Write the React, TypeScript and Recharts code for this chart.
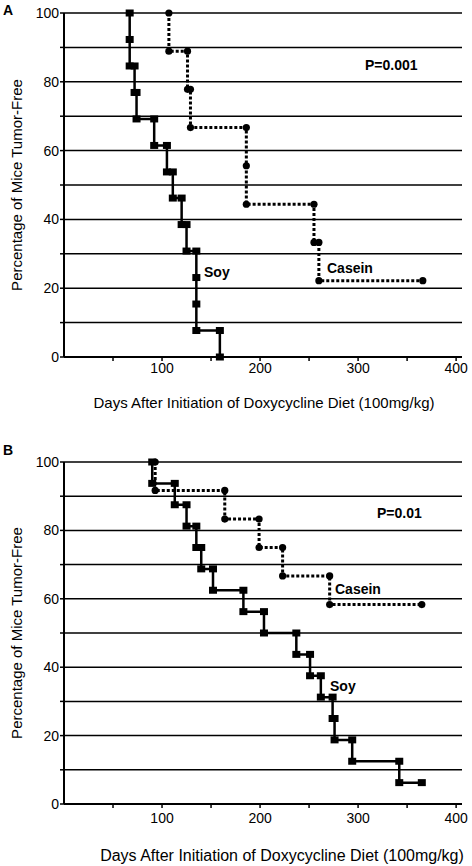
import React from 'react';
import { LineChart, Line, XAxis, YAxis, CartesianGrid } from 'recharts';

// ---- Panel A data ----
const soyADays = [67, 67, 67, 72, 72, 74, 74, 92, 92, 105, 105, 111, 111, 120, 120, 125, 125, 135, 135, 135, 135, 159, 159];
const soyAPct = [100, 92.3, 84.6, 84.6, 76.9, 76.9, 69.2, 69.2, 61.5, 61.5, 53.8, 53.8, 46.2, 46.2, 38.5, 38.5, 30.8, 30.8, 23.1, 15.4, 7.7, 7.7, 0];
const caseinADays = [107, 107, 126, 126, 129, 129, 186, 186, 186, 255, 255, 260, 260, 366];
const caseinAPct = [100, 88.9, 88.9, 77.8, 77.8, 66.7, 66.7, 55.6, 44.4, 44.4, 33.3, 33.3, 22.2, 22.2];

// ---- Panel B data ----
const soyBDays = [90, 90, 113, 113, 125, 125, 135, 135, 140, 140, 152, 152, 183, 183, 204, 204, 237, 237, 251, 251, 262, 262, 274, 274, 276, 276, 294, 294, 342, 342, 365];
const soyBPct = [100, 93.75, 93.75, 87.5, 87.5, 81.25, 81.25, 75, 75, 68.75, 68.75, 62.5, 62.5, 56.25, 56.25, 50, 50, 43.75, 43.75, 37.5, 37.5, 31.25, 31.25, 25, 25, 18.75, 18.75, 12.5, 12.5, 6.25, 6.25];
const caseinBDays = [93, 93, 164, 164, 199, 199, 223, 223, 271, 271, 365];
const caseinBPct = [100, 91.7, 91.7, 83.3, 83.3, 75, 75, 66.7, 66.7, 58.3, 58.3];

// ---- Axes ----
const xTicks = [50, 100, 150, 200, 250, 300, 350, 400];
const xTickLabels = ['', '100', '', '200', '', '300', '', '400'];
const yTicks = [0, 10, 20, 30, 40, 50, 60, 70, 80, 90, 100];
const yTickLabels = ['0', '', '20', '', '40', '', '60', '', '80', '', '100'];

const xTitle = 'Days After Initiation of Doxycycline Diet (100mg/kg)';
const yTitle = 'Percentage of Mice Tumor-Free';

const FONT = "'Liberation Sans', Arial, Helvetica, sans-serif";

const zip = (xs: number[], ys: number[]) => xs.map((x, i) => ({ x, y: ys[i] }));

const SquareDot = (p: any) => (
  <rect key={`sq-${p.index}`} x={p.cx - 4} y={p.cy - 3.5} width={8} height={7} fill="#000" />
);
const CircleDot = (p: any) => (
  <circle key={`ci-${p.index}`} cx={p.cx} cy={p.cy} r={3.6} fill="#000" />
);

function Panel({ soy, casein, height, top, xAxisHeight, tickMarginX }: any) {
  return (
    <LineChart
      width={472}
      height={height}
      margin={{ top, right: 10, left: 0, bottom: 0 }}
    >
      <CartesianGrid horizontal vertical={false} stroke="#000" strokeWidth={1.5} />
      <XAxis
        type="number"
        dataKey="x"
        domain={[0, 406]}
        ticks={xTicks}
        tickFormatter={(v: number) => xTickLabels[xTicks.indexOf(v)] ?? ''}
        height={xAxisHeight}
        axisLine={{ stroke: '#000', strokeWidth: 2 }}
        tickLine={{ stroke: '#000', strokeWidth: 1.5 }}
        tickSize={4}
        tickMargin={tickMarginX}
        tick={{ fill: '#000', fontSize: 14, fontFamily: FONT }}
        allowDataOverflow
      />
      <YAxis
        type="number"
        domain={[0, 100]}
        ticks={yTicks}
        tickFormatter={(v: number) => yTickLabels[yTicks.indexOf(v)] ?? ''}
        width={64}
        axisLine={{ stroke: '#000', strokeWidth: 2 }}
        tickLine={{ stroke: '#000', strokeWidth: 1.5 }}
        tickSize={4}
        tickMargin={1}
        tick={{ fill: '#000', fontSize: 14, fontFamily: FONT }}
        interval={0}
      />
      <Line
        data={casein}
        dataKey="y"
        type="linear"
        stroke="#000"
        strokeWidth={3}
        strokeDasharray="3 2"
        dot={CircleDot}
        activeDot={false}
        isAnimationActive={false}
      />
      <Line
        data={soy}
        dataKey="y"
        type="linear"
        stroke="#000"
        strokeWidth={2.5}
        dot={SquareDot}
        activeDot={false}
        isAnimationActive={false}
      />
    </LineChart>
  );
}

export default function App() {
  const bold = { fontFamily: FONT, fontWeight: 700, fontSize: 14, fill: '#000' } as any;
  const reg = { fontFamily: FONT, fontSize: 15, fill: '#000' } as any;
  return (
    <div style={{ position: 'absolute', left: 0, top: 0, width: 472, height: 866, background: '#fff' }}>
      <div style={{ position: 'absolute', left: 0, top: 0 }}>
        <Panel soy={zip(soyADays, soyAPct)} casein={zip(caseinADays, caseinAPct)} height={420} top={13} xAxisHeight={63} tickMarginX={2} />
      </div>
      <div style={{ position: 'absolute', left: 0, top: 440 }}>
        <Panel soy={zip(soyBDays, soyBPct)} casein={zip(caseinBDays, caseinBPct)} height={426} top={22} xAxisHeight={62} tickMarginX={5} />
      </div>
      <svg width={472} height={866} style={{ position: 'absolute', left: 0, top: 0, pointerEvents: 'none' }}>
        <text x={3} y={15} {...bold}>A</text>
        <text x={3} y={455} {...bold}>B</text>
        <text x={365} y={70} {...bold}>P=0.001</text>
        <text x={377} y={518} {...bold}>P=0.01</text>
        <text x={204} y={277} {...bold}>Soy</text>
        <text x={327} y={273} {...bold}>Casein</text>
        <text x={335} y={594} {...bold}>Casein</text>
        <text x={330} y={691} {...bold}>Soy</text>
        <text x={264} y={408} textAnchor="middle" {...reg}>{xTitle}</text>
        <text x={282} y={861} textAnchor="middle" {...reg} fontSize={16}>{xTitle}</text>
        <text x={-185} y={22} transform="rotate(-90)" textAnchor="middle" {...reg}>{yTitle}</text>
        <text x={-633} y={22} transform="rotate(-90)" textAnchor="middle" {...reg}>{yTitle}</text>
      </svg>
    </div>
  );
}
